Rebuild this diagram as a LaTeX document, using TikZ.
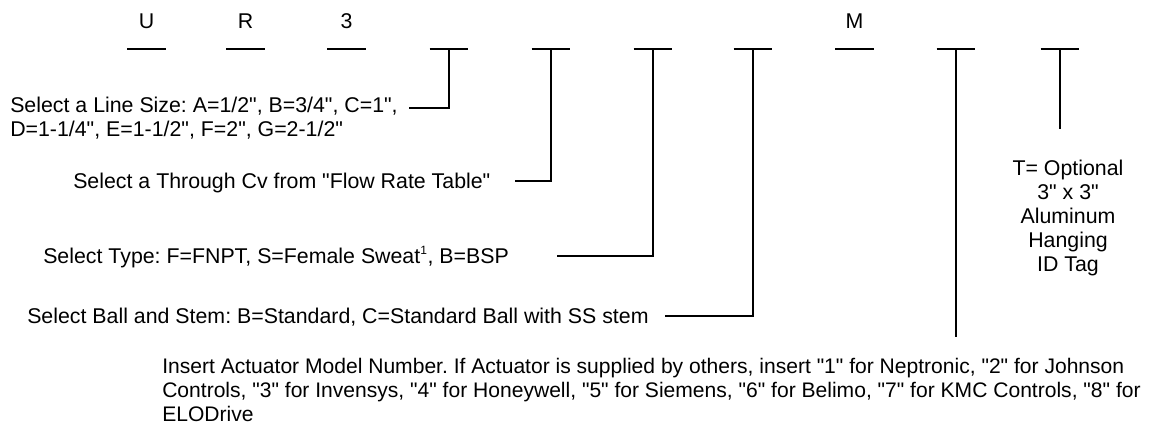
\documentclass[tikz,border=0pt]{standalone}
\usepackage{fontspec}
\setmainfont{Liberation Sans}[Ligatures=TeXOff]
\begin{document}
\begin{tikzpicture}[x=0.75pt,y=-0.75pt,
  font=\fontsize{16}{18}\selectfont\frenchspacing,
  lbl/.style={inner sep=0pt, anchor=base west},
  multi/.style={inner sep=0pt, align=left, anchor=north west},
  code/.style={inner sep=0pt, anchor=base},
  bar/.style={line width=1.4pt},
  lead/.style={line width=1.1pt}]
\useasboundingbox[fill=white] (0,0) rectangle (1152,424);

% code letters
\node[code] (lU) at (146.5,29) {U};
\node[code] (lR) at (245.5,29) {R};
\node[code] (l3) at (346.5,29) {3};
\node[code] (lM) at (854.5,29) {M};

% bar positions
\coordinate (b1) at (146.5,49);
\coordinate (b2) at (245.5,49);
\coordinate (b3) at (346.5,49);
\coordinate (b4) at (449,49);
\coordinate (b5) at (551,49);
\coordinate (b6) at (653,49);
\coordinate (b7) at (753,49);
\coordinate (b8) at (854.5,49);
\coordinate (b9) at (956,49);
\coordinate (b10) at (1060,49);
\foreach \b in {b1,b2,b3,b4,b5,b6,b7,b8,b9,b10}
  \draw[bar] ([xshift=-14.6pt]\b) -- ([xshift=14.6pt]\b);

% texts
\node[multi] (sizeT) at (10,96.5)
  {Select a Line Size: A=1/2", B=3/4", C=1",\\D=1-1/4", E=1-1/2", F=2", G=2-1/2"};
\node[lbl] (cvT) at (73,188) {Select a Through Cv from "Flow Rate Table"};
\node[lbl] (typeT) at (43,263) {Select Type: F=FNPT, S=Female Sweat\textsuperscript{\fontsize{9}{10}\selectfont 1}, B=BSP};
\node[lbl] (ballT) at (27,323) {Select Ball and Stem: B=Standard, C=Standard Ball with SS stem};
\node[multi, font=\fontsize{15.8}{18}\selectfont\frenchspacing] (insT) at (162,357.5)
  {Insert Actuator Model Number. If Actuator is supplied by others, insert "1" for Neptronic, "2" for Johnson\\
   Controls, "3" for Invensys, "4" for Honeywell, "5" for Siemens, "6" for Belimo, "7" for KMC Controls, "8" for\\
   ELODrive};
\node[inner sep=0pt, align=center, anchor=north] (tagT) at (1068,159.5)
  {T= Optional\\3" x 3"\\Aluminum\\Hanging\\ID Tag};

% connector free ends
\coordinate (e4) at (409,108);
\coordinate (e5) at (515,181);
\coordinate (e6) at (557,256);
\coordinate (e7) at (665,316);
\coordinate (e9) at (956,337);
\coordinate (e10) at (1060,129);

\draw[lead] (b4) |- (e4);
\draw[lead] (b5) |- (e5);
\draw[lead] (b6) |- (e6);
\draw[lead] (b7) |- (e7);
\draw[lead] (b9) -- (e9);
\draw[lead] (b10) -- (e10);
\end{tikzpicture}
\end{document}
